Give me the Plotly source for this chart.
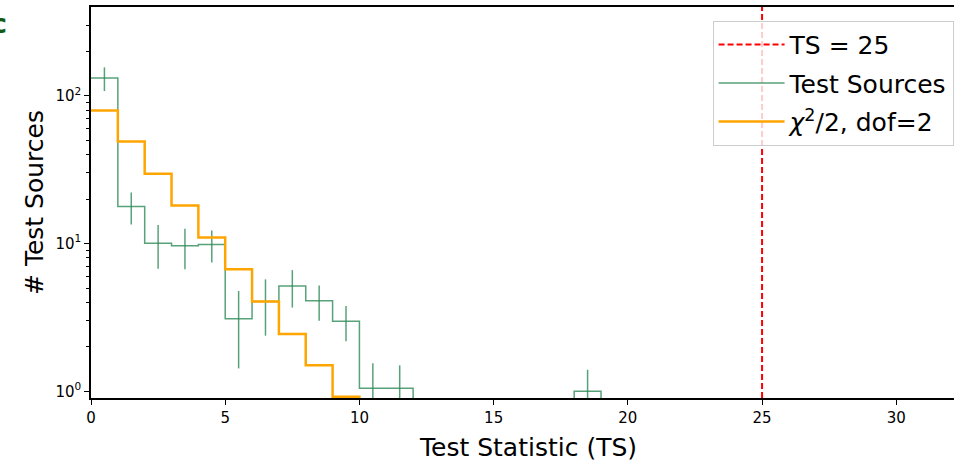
import plotly.graph_objects as go

# ---------------- data ----------------
TS_BIN_EDGES = list(range(0, 20))          # 1-wide bins, 0..19
SOURCE_COUNTS = [131.5, 17.8, 10.05, 9.65, 9.85, 3.1, 4.05, 5.15, 4.1, 2.98,
                 1.05, 1.05, 0, 0, 0, 0, 0, 0, 1.0]
SOURCE_ERRORS = [24.0, 4.35, 3.3, 2.95, 2.4, 1.67, 1.67, 1.46, 1.1, 0.8,
                 0.5, 0.45, 0, 0, 0, 0, 0, 0, 0.4]

CHI2_BIN_EDGES = list(range(0, 11))        # 0..10
CHI2_EXPECTED = [79.5, 49.0, 29.7, 18.1, 11.0, 6.7, 4.05, 2.44, 1.5, 0.92]

TS_THRESHOLD = 25

Y_TICK_VALUES = [1, 10, 100]
Y_TICK_LABELS = ["10<sup>0</sup>", "10<sup>1</sup>", "10<sup>2</sup>"]
X_TICK_VALUES = [0, 5, 10, 15, 20, 25, 30]

# ---------------- style ----------------
FONT = "DejaVu Sans"
GREEN = "rgba(46,139,87,0.8)"
ORANGE = "#FFA500"
FLOOR = 0.3  # where empty bins fall (below the visible range)
ML, MR, MT, MB = 91, 0, 7, 64
W, H = 954, 462


def step_xy(edges, values):
    xs = list(edges[:-1]) + [edges[-1]]
    ys = [v if v > 0 else FLOOR for v in values] + [FLOOR]
    return xs, ys


fig = go.Figure()

# legend-only entry for the threshold line
fig.add_trace(go.Scatter(
    x=[None], y=[None], mode="lines", name=f"TS = {TS_THRESHOLD}",
    line=dict(color="red", width=2, dash="6px,3px"), legendgroup="a"))

gx, gy = step_xy(TS_BIN_EDGES, SOURCE_COUNTS)
fig.add_trace(go.Scatter(
    x=gx, y=gy, mode="lines", line_shape="hv", name="Test Sources",
    line=dict(color=GREEN, width=1.5), legendgroup="b"))

centers = [e + 0.5 for e in TS_BIN_EDGES[:-1]]
ex = [c for c, v in zip(centers, SOURCE_COUNTS) if v > 0]
ey = [v for v in SOURCE_COUNTS if v > 0]
ee = [e for e, v in zip(SOURCE_ERRORS, SOURCE_COUNTS) if v > 0]
fig.add_trace(go.Scatter(
    x=ex, y=ey, mode="markers", marker=dict(size=1, color=GREEN, opacity=0),
    error_y=dict(type="data", array=ee, visible=True, width=0,
                 thickness=1.5, color=GREEN),
    showlegend=False, hoverinfo="skip"))

ox, oy = step_xy(CHI2_BIN_EDGES, CHI2_EXPECTED)
fig.add_trace(go.Scatter(
    x=ox, y=oy, mode="lines", line_shape="hv",
    name="<i>χ</i><sup>2</sup>/2, dof=2",
    line=dict(color=ORANGE, width=2.5), legendgroup="c"))

fig.add_vline(x=TS_THRESHOLD, line=dict(color="red", width=2, dash="6px,3px"))

axis_common = dict(
    showline=True, linecolor="black", linewidth=1.5,
    ticks="outside", ticklen=5, tickwidth=1.3, tickcolor="black",
    showgrid=False, zeroline=False, automargin=False,
    tickfont=dict(family=FONT, size=15, color="black"),
)

fig.update_xaxes(
    range=[0, 32.15], tickmode="array", tickvals=X_TICK_VALUES,
    mirror=True, **axis_common)

minor_vals = [m * 10 ** d for d in (0, 1, 2) for m in range(2, 10)]
fig.update_yaxes(
    type="log", range=[-0.045, 2.6], tickmode="array",
    tickvals=Y_TICK_VALUES, ticktext=Y_TICK_LABELS, mirror=False,
    minor=dict(tickmode="array", tickvals=minor_vals, ticks="outside",
               ticklen=3, tickwidth=1, tickcolor="black", showgrid=False),
    title=dict(text="# Test Sources", standoff=5,
               font=dict(family=FONT, size=25, color="black")),
    **axis_common)

plot_w = W - ML - MR
plot_h = H - MT - MB

# x-axis title (centred on the full, uncropped axes width)
fig.add_annotation(
    text="Test Statistic (TS)", xref="paper", yref="paper",
    x=(528 - ML) / plot_w, y=-(447 - (H - MB)) / plot_h,
    xanchor="center", yanchor="middle", showarrow=False,
    font=dict(family=FONT, size=25, color="black"))

fig.add_annotation(
    text="<b>c</b>", xref="paper", yref="paper", x=(-1 - ML) / plot_w,
    y=0.958, xanchor="center", yanchor="middle", showarrow=False,
    font=dict(family=FONT, size=27, color="#145a14"))

fig.update_layout(
    width=W, height=H,
    margin=dict(l=ML, r=MR, t=MT, b=MB, autoexpand=False),
    paper_bgcolor="white", plot_bgcolor="white",
    font=dict(family=FONT, color="black"),
    showlegend=True,
    legend=dict(
        x=0.9995, y=0.965, xanchor="right", yanchor="top",
        bgcolor="rgba(255,255,255,0.8)", bordercolor="#cccccc", borderwidth=1,
        font=dict(family=FONT, size=25, color="black"),
        tracegroupgap=3, itemwidth=66,
    ),
)

fig.write_html(
    "out.html",
    config={"displayModeBar": False},
    post_script="document.body.style.margin='0';"
                "document.body.style.overflow='hidden';",
)
